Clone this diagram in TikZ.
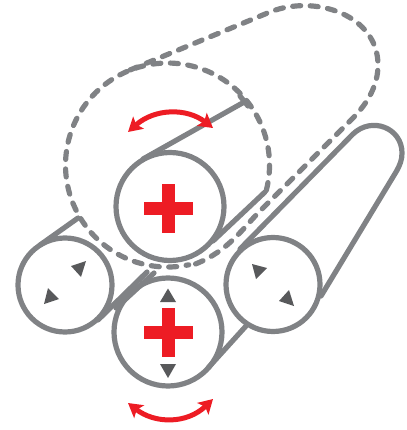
\documentclass[tikz,border=0pt]{standalone}
\usetikzlibrary{arrows.meta}
\definecolor{beltgray}{HTML}{808285}
\definecolor{markgray}{HTML}{58595B}
\definecolor{plusred}{HTML}{ED1C24}
\tikzset{
  solidbelt/.style={draw=beltgray,line width=5.2pt,line cap=round,line join=round},
  dashbelt/.style={draw=beltgray,line width=5.2pt,line cap=round,dash pattern=on 8pt off 9.5pt},
  marktri/.style={fill=markgray,draw=none},
  plusbar/.style={fill=plusred,draw=none},
  turn/.style={draw=plusred,line width=5pt,{Stealth[length=14pt,width=16pt,inset=3pt]}-{Stealth[length=14pt,width=16pt,inset=3pt]}}
}
\begin{document}
\begin{tikzpicture}[x=1pt,y=-1pt]
\useasboundingbox (0,0) rectangle (406,430);
% dashed outline
\draw[dashbelt] (266.3,190.4) arc[start angle=14.4,end angle=-282,radius=102];
\draw[dashbelt] (130,70) -- (270,12) .. controls (315,-6) and (378,15) .. (378,65)
  .. controls (378,85) and (368,103) .. (352,119) -- (258,213) .. controls (240,232) and (225,254) .. (190,266);
% rollers
\draw[solidbelt] (170,206.5) circle[radius=54];
\draw[solidbelt] (168,332) circle[radius=54];
\draw[solidbelt] (65,285) circle[radius=47];
\draw[solidbelt] (273,284.5) circle[radius=47];
% belts
\draw[solidbelt] (143,159) -- (246,101);
\draw[solidbelt] (240,96) -- (248,106);
\draw[solidbelt] (213,241) -- (265,192);
\draw[solidbelt] (40,245) -- (78,218);
\draw[solidbelt] (98,320) -- (147,272);
\draw[solidbelt] (116,308) -- (154,273);
\draw[solidbelt] (208,368) -- (246,326);
\draw[solidbelt] (240,249) -- (353,134) .. controls (372,116) and (402,128) .. (402,153)
  .. controls (402,160) and (400,165) .. (396,172) -- (321,296);
% pluses
\fill[plusbar] (162,184) rectangle (175,233);
\fill[plusbar] (144,202) rectangle (193,215);
\fill[plusbar] (162,308) rectangle (175,357);
\fill[plusbar] (144,326) rectangle (193,339);
% triangles
\fill[marktri] (168,288.5) -- (176,302) -- (160,302) -- cycle;
\fill[marktri] (168,378) -- (176,364) -- (160,364) -- cycle;
\fill[marktri] (86,261) -- (71,266) -- (81,277) -- cycle;
\fill[marktri] (48,288) -- (44,304) -- (59,299) -- cycle;
\fill[marktri] (252,264) -- (267,268) -- (256,279) -- cycle;
\fill[marktri] (289,290) -- (294,306) -- (279,301) -- cycle;
% turn arrows
\draw[turn] (128,132) .. controls (155,108) and (187,108) .. (213,128);
\draw[turn] (128,403) .. controls (155,424) and (187,424) .. (213,399);
\end{tikzpicture}
\end{document}
